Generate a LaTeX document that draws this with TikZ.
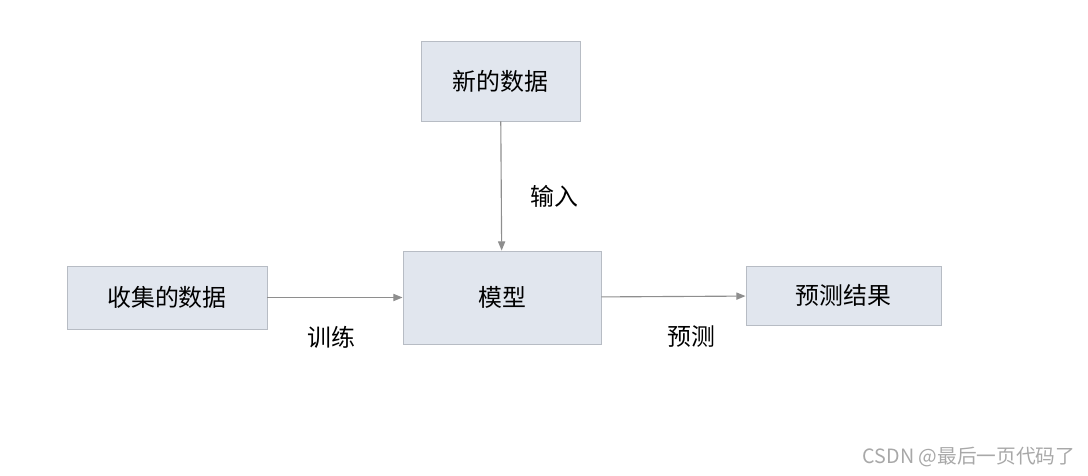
\documentclass[tikz,border=0pt]{standalone}
\usepackage{fontspec}
\setmainfont{Noto Sans CJK SC}
\usepackage{tikz}
\usetikzlibrary{positioning,arrows.meta}
\definecolor{boxfill}{HTML}{E1E6EE}
\definecolor{boxline}{HTML}{B7BCC4}
\definecolor{arrowgrey}{HTML}{8E8E8E}
\definecolor{markgrey}{HTML}{A8A8A8}

\begin{document}
\begin{tikzpicture}[x=0.025cm, y=-0.025cm, font=\fontsize{17pt}{19pt}\selectfont,
  bx/.style={draw=boxline, fill=boxfill, line width=0.6pt, align=center, inner sep=0pt},
  flow/.style={-{Triangle[length=2.3mm, width=1.8mm]}, draw=arrowgrey, line width=0.8pt}]
\useasboundingbox (0,0) rectangle (1088,475);
% ===== boxes =====
\node[bx, minimum width=3.975cm, minimum height=2.0cm] (newdata) at (500.5,81) {新的数据};
\node[bx, minimum width=5.0cm, minimum height=1.575cm] (collect) at (167,297.5) {收集的数据};
\node[bx, minimum width=4.95cm, minimum height=2.325cm] (model) at (502,297.5) {模型};
\node[bx, minimum width=4.875cm, minimum height=1.475cm] (result) at (843.5,295.5) {预测结果};
% ===== connectors =====
\draw[flow] (newdata) -- (model);
\draw[flow] (collect) -- (model);
\draw[flow] (model) -- (result);
% ===== labels =====
\node (lbin) at (554,196) {输入};
\node (lbtrain) at (331,337) {训练};
\node (lbpred) at (691,337) {预测};
\node[font=\fontsize{14pt}{16pt}\selectfont, text=markgrey] (wmark) at (969,457) {CSDN @最后一页代码了};
\end{tikzpicture}
\end{document}
